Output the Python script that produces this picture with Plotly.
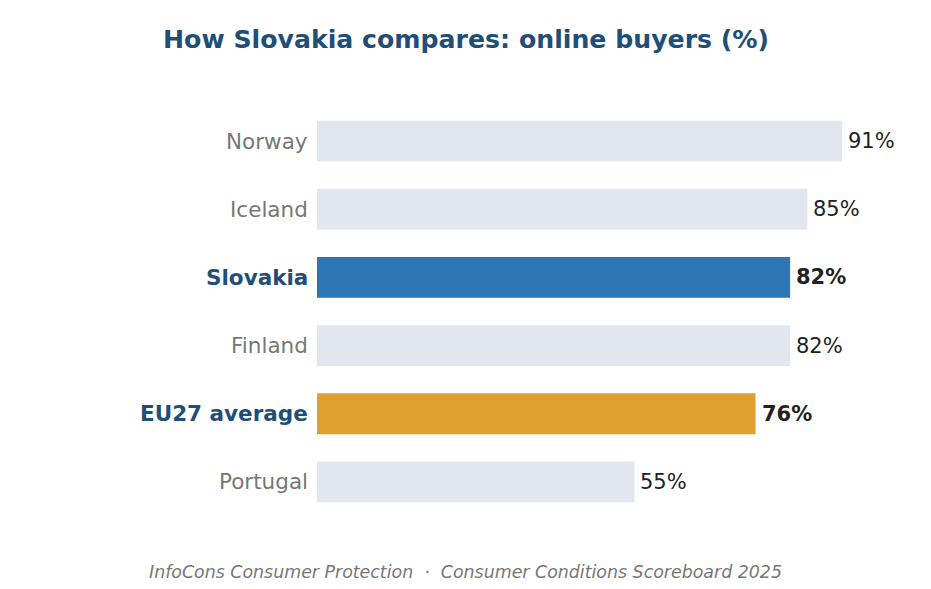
import plotly.graph_objects as go

categories = ["Norway", "Iceland", "Slovakia", "Finland", "EU27 average", "Portugal"]
values = [91, 85, 82, 82, 76, 55]
highlight = ["none", "none", "country", "none", "eu", "none"]

bar_colors = {"none": "#e2e7ef", "country": "#2e75b6", "eu": "#e0a030"}
FONT = "DejaVu Sans"

colors = [bar_colors[h] for h in highlight]

fig = go.Figure(go.Bar(
    x=values, y=categories, orientation="h",
    marker=dict(color=colors, line=dict(width=0)),
    width=0.6, hoverinfo="skip",
))

annotations = []
for c, v, h in zip(categories, values, highlight):
    hl = h != "none"
    annotations.append(dict(
        x=0, y=c, xref="x", yref="y", xanchor="right", yanchor="middle",
        xshift=-7, showarrow=False,
        text=f"<b>{c}</b>" if hl else c,
        font=dict(family=FONT, size=21.5, color="#1f4e79" if hl else "#777777"),
    ))
    annotations.append(dict(
        x=v, y=c, xref="x", yref="y", xanchor="left", yanchor="middle",
        xshift=4, showarrow=False,
        text=f"<b>{v}%</b>" if hl else f"{v}%",
        font=dict(family=FONT, size=21, color="#222222"),
    ))

W, H = 915, 573
ml, mr, mt, mb = 309, 29, 99, 65
ph = H - mt - mb
pw = W - ml - mr

annotations.append(dict(
    x=(W / 2 - ml) / pw, y=(H - mb - 32) / ph, xref="paper", yref="paper",
    showarrow=False, xanchor="center", yanchor="middle",
    text="<b>How Slovakia compares: online buyers (%)</b>",
    font=dict(family=FONT, size=25.2, color="#1f4e79"),
))
annotations.append(dict(
    x=(W / 2 - ml) / pw, y=(H - mb - 564) / ph, xref="paper", yref="paper",
    showarrow=False, xanchor="center", yanchor="middle",
    text="<i>InfoCons Consumer Protection  ·  Consumer Conditions Scoreboard 2025</i>",
    font=dict(family=FONT, size=17.4, color="#777777"),
))

fig.update_layout(
    width=W, height=H,
    margin=dict(l=ml, r=mr, t=mt, b=mb),
    paper_bgcolor="white", plot_bgcolor="white",
    showlegend=False,
    xaxis=dict(range=[0, 100], visible=False, fixedrange=True),
    yaxis=dict(categoryorder="array", categoryarray=categories[::-1],
               range=[-0.5, len(categories) - 0.5],
               showticklabels=False, showgrid=False, zeroline=False, fixedrange=True),
    annotations=annotations,
    font=dict(family=FONT),
)

fig.write_html("out.html", config={"displayModeBar": False})
